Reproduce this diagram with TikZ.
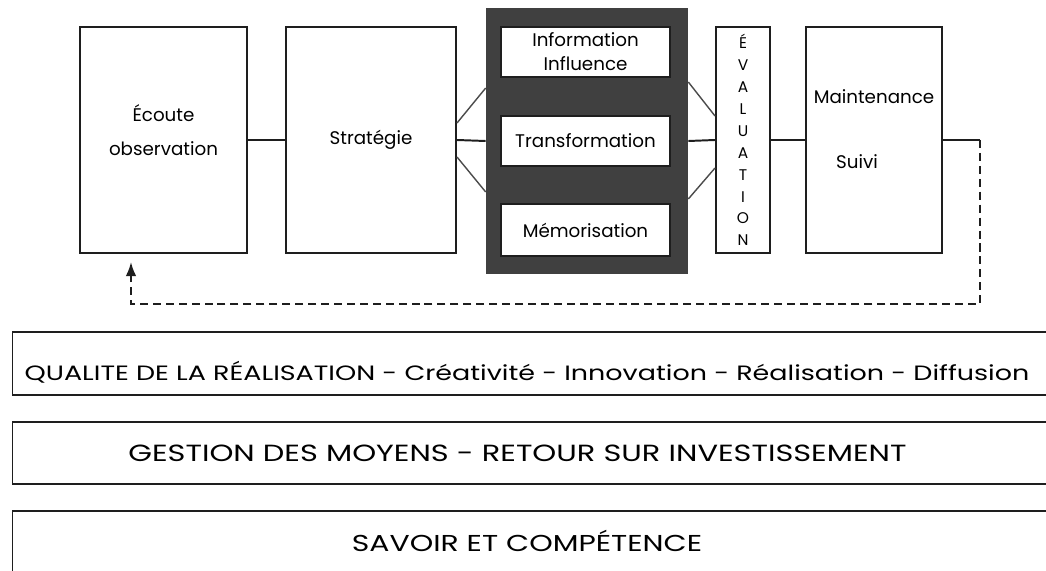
\documentclass[tikz,border=0pt]{standalone}
\usepackage{fontspec}
\setmainfont{Poppins}
\newfontfamily\bandeFont[FakeStretch=1.3]{Poppins}
\usetikzlibrary{arrows.meta,calc,positioning}
\definecolor{blocGris}{RGB}{64,64,64}
\definecolor{traitNoir}{RGB}{30,30,30}

\tikzset{
  etape/.style={draw=traitNoir,line width=1.4pt,fill=white,minimum height=5.65cm,inner sep=0pt,align=center,font=\fontsize{13}{24}\selectfont},
  sousEtape/.style={draw=traitNoir,line width=1.4pt,fill=white,minimum width=4.225cm,minimum height=1.25cm,inner sep=0pt,align=center,font=\fontsize{13}{17}\selectfont},
  bande/.style={draw=traitNoir,line width=0.9pt,minimum width=26.2cm,inner sep=0pt,font=\bandeFont\fontsize{14.75}{18}\selectfont},
  lien/.style={traitNoir,line width=1.4pt},
  biais/.style={traitNoir!80,line width=1pt},
  retourLien/.style={traitNoir,line width=1.4pt,dash pattern=on 5.7pt off 3.5pt}
}

\begin{document}
\begin{tikzpicture}[x=0.025cm,y=-0.025cm]
  \useasboundingbox (0,0) rectangle (1046,571);
  % chaine principale
  \node[etape,minimum width=4.175cm,text depth=0.5cm] (ecoute) at (163.5,140) {Écoute\\observation};
  \node[etape,minimum width=4.25cm] (strat) at (371,140) {Stratégie};
  \node[fill=blocGris,minimum width=5.05cm,minimum height=6.65cm,inner sep=0pt] (bloc) at (587,141) {};
  \node[sousEtape] (info) at (585.5,52) {Information\\Influence};
  \node[sousEtape] (transf) at (585.5,141) {Transformation};
  \node[sousEtape,minimum height=1.3cm] (memo) at (585.5,230) {Mémorisation};
  \node[etape,minimum width=1.35cm,font=\fontsize{11}{15.6}\selectfont] (eval) at (743,140)
    {É\\V\\A\\L\\U\\A\\T\\I\\O\\N};
  \node[etape,minimum width=3.4cm,font=\fontsize{13}{46}\selectfont,text depth=0.55cm] (maint) at (874,140)
    {Maintenance\\Suivi\kern0.85cm};

  \draw[lien] (ecoute.east) -- (strat.west);
  \draw[lien] (strat.east) -- (bloc.west);
  \draw[lien] (bloc.east) -- (eval.west);
  \draw[lien] (eval.east) -- (maint.west);
  % liaisons en biais
  \draw[biais] ($(strat.east)+(0,-17)$) -- ($(bloc.west)+(0,-53)$);
  \draw[biais] ($(strat.east)+(0,17)$) -- ($(bloc.west)+(0,51)$);
  \draw[biais] ($(bloc.east)+(0,-59)$) -- ($(eval.west)+(0,-24)$);
  \draw[biais] ($(bloc.east)+(0,58)$) -- ($(eval.west)+(0,28)$);

  % boucle de retour
  \coordinate (coinD) at ($(maint.east)+(37,0)$);
  \coordinate (coinG) at (131,304);
  \coordinate (retour) at (131,262);
  \draw[lien] (maint.east) -- (coinD);
  \draw[retourLien,-{Latex[length=10pt,width=7.5pt]}] (coinD) |- (coinG) -- (retour);

  % bandeaux du bas
  \node[bande,minimum height=1.575cm,text height=0.85cm,text depth=0cm] (qualite) at (536.5,363.5)
    {QUALITE DE LA RÉALISATION - Créativité - Innovation - Réalisation - Diffusion\kern0.475cm};
  \node[bande,minimum height=1.55cm,font=\bandeFont\fontsize{16.65}{18}\selectfont] (moyens) at (536.5,453)
    {GESTION DES MOYENS - RETOUR SUR INVESTISSEMENT\kern0.95cm};
  \node[bande,minimum height=2.225cm,font=\bandeFont\fontsize{16.35}{18}\selectfont] (savoir) at (536.5,555.5)
    {\raisebox{0.725cm}{SAVOIR ET COMPÉTENCE}\kern0.475cm};
\end{tikzpicture}
\end{document}
